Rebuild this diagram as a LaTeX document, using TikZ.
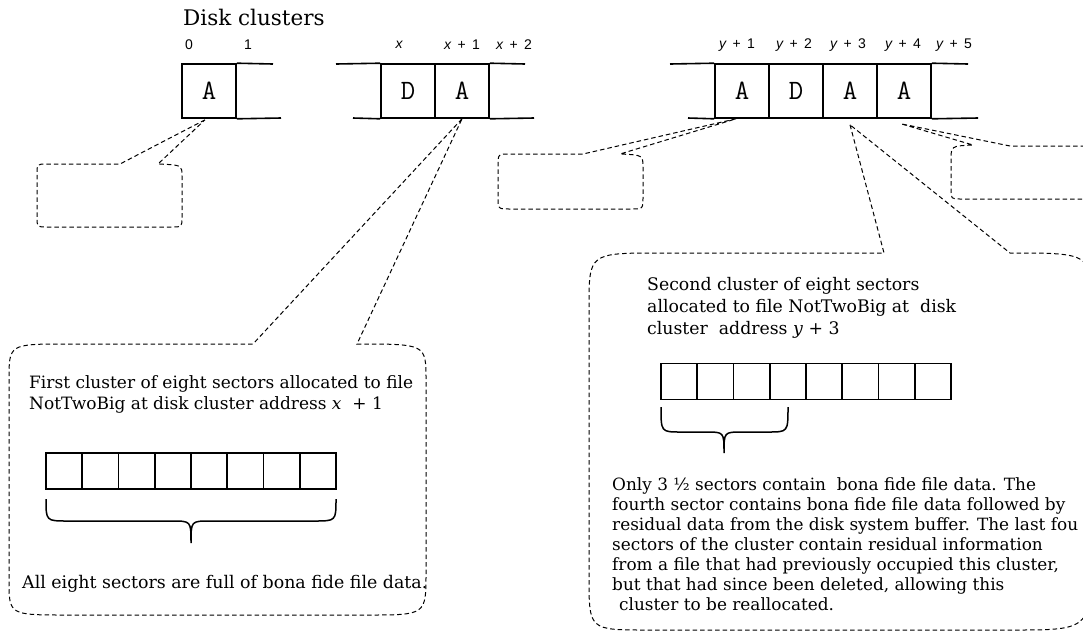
\documentclass[tikz,border=0pt]{standalone}
\usepackage{fontspec}
\setmainfont{DejaVu Serif}
\newfontfamily\lblfont{Liberation Sans}
\usetikzlibrary{calc}
\tikzset{
  cellbox/.style={draw, line width=1.6pt, minimum width=54pt, minimum height=54pt, inner sep=0pt,
    font=\ttfamily\fontsize{28}{28}\selectfont\addfontfeatures{FakeBold=2.2,FakeStretch=1.12}},
  rowline/.style={line width=1.6pt},
  sector/.style={draw, line width=1.6pt, minimum width=36.25pt, minimum height=36pt, inner sep=0pt},
  bracestyle/.style={line width=1.5pt},
  callout/.style={draw=black, line width=1pt, dash pattern=on 4.5pt off 3pt},
  lbl/.style={font=\lblfont\fontsize{14}{14}\selectfont, inner sep=0pt},
  txt/.style={inner sep=0pt, align=left, anchor=north west},
}
\newcommand{\lsp}{\hspace{0.45em}}
\begin{document}
\begin{tikzpicture}[x=1pt,y=-1pt]
\useasboundingbox (0,0) rectangle (1083,633);
\clip (0,0) rectangle (1083,633);

% title
\node[anchor=base west, inner sep=0pt, font=\fontsize{21.5}{21.5}\selectfont] (title) at (183,25) {Disk clusters};

% disk cluster cells
\node[cellbox] (a0) at (209,91) {A};
\node[cellbox] (d1) at (408,91) {D};
\node[cellbox] (a1) at (462,91) {A};
\node[cellbox] (c1) at (742,91) {A};
\node[cellbox] (c2) at (796,91) {D};
\node[cellbox] (c3) at (850,91) {A};
\node[cellbox] (c4) at (904,91) {A};

\coordinate (r1t) at (273,64);
\coordinate (r1b) at (281,118);
\coordinate (r2tl) at (336,64);
\coordinate (r2bl) at (353,118);
\coordinate (r2tr) at (525,64);
\coordinate (r2br) at (534,118);
\coordinate (r3tl) at (670,64);
\coordinate (r3bl) at (688,118);
\coordinate (r3tr) at (968,64);
\coordinate (r3br) at (978,118);

\draw[rowline] (a0.north east) -- (r1t);
\draw[rowline] (a0.south east) -- (r1b);
\draw[rowline] (r2tl) -- (d1.north west);
\draw[rowline] (r2bl) -- (d1.south west);
\draw[rowline] (a1.north east) -- (r2tr);
\draw[rowline] (a1.south east) -- (r2br);
\draw[rowline] (r3tl) -- (c1.north west);
\draw[rowline] (r3bl) -- (c1.south west);
\draw[rowline] (c4.north east) -- (r3tr);
\draw[rowline] (c4.south east) -- (r3br);

% address labels
\node[lbl] (l0) at (189,45) {0};
\node[lbl] (l1) at (248,45) {1};
\node[lbl] (lx) at (399,45) {\itshape x};
\node[lbl] (lx1) at (462,45) {{\itshape x}\lsp+\lsp1};
\node[lbl] (lx2) at (514,45) {{\itshape x}\lsp+\lsp2};
\node[lbl] (ly1) at (737,45) {{\itshape y}\lsp+\lsp1};
\node[lbl] (ly2) at (794,45) {{\itshape y}\lsp+\lsp2};
\node[lbl] (ly3) at (848,45) {{\itshape y}\lsp+\lsp3};
\node[lbl] (ly4) at (903,45) {{\itshape y}\lsp+\lsp4};
\node[lbl] (ly5) at (954,45) {{\itshape y}\lsp+\lsp5};

% callouts
\draw[callout] ($(a0.south)+(-4,1)$) -- (120,164) -- (47,164) .. controls (37,164) .. (37,174)
  -- (37,217) .. controls (37,227) .. (47,227) -- (172,227) .. controls (182,227) .. (182,217)
  -- (182,176) .. controls (182,165) .. (158,164) -- cycle;
\draw[callout] ($(c1.south)+(-6,0)$) -- (583,154) -- (510,154) .. controls (498,154) .. (498,166)
  -- (498,197) .. controls (498,209) .. (510,209) -- (631,209) .. controls (643,209) .. (643,197)
  -- (643,168) .. controls (643,155) .. (620,154) -- cycle;
\draw[callout] (1100,146) -- (1010,146) -- ($(c4.south)+(-3,5)$) -- (973,145)
  .. controls (951,146) .. (951,160) -- (951,189) .. controls (951,199) .. (961,199) -- (1100,199);
\draw[callout] (a1.south) -- (253,344) -- (67,344) .. controls (9,344) .. (9,380)
  -- (9,580) .. controls (9,615) .. (67,615) -- (367,615) .. controls (426,615) .. (426,573)
  -- (426,380) .. controls (426,344) .. (357,344) -- cycle;
\draw[callout] ($(c3.south)+(0,6)$) -- (884,253) -- (660,253) .. controls (589,253) .. (589,307)
  -- (589,577) .. controls (589,630) .. (647,630) -- (1013,630) .. controls (1092,630) .. (1092,545)
  -- (1092,310) .. controls (1092,253) .. (1010,253) -- cycle;

% left detail
\node[txt, font=\fontsize{17}{21}\selectfont] (t1) at (29,375)
  {First cluster of eight sectors allocated to file\\NotTwoBig at disk cluster address \textit{x}~~+ 1};
\foreach \i in {0,...,7} \node[sector] (ls\i) at ({46+36.25*(\i+0.5)},471) {};
\draw[bracestyle] (46,499) .. controls (46,521) .. (68,521) -- (172,521) .. controls (191,521) .. (191,543)
  .. controls (191,521) .. (210,521) -- (314,521) .. controls (336,521) .. (336,499);
\node[txt, font=\fontsize{17.4}{21}\selectfont] (t2) at (22,575)
  {All eight sectors are full of bona fide file data.};

% right detail
\node[txt, font=\fontsize{17.3}{22}\selectfont] (t3) at (647,277)
  {Second cluster of eight sectors\\allocated to file~NotTwoBig at~~disk\\cluster~~address \textit{y} + 3};
\foreach \i in {0,...,7} \node[sector] (rs\i) at ({661+36.25*(\i+0.5)},381.5) {};
\draw[bracestyle] (661,407) .. controls (661,432) .. (681,432) -- (706,432) .. controls (724,432) .. (724,453)
  .. controls (724,432) .. (742,432) -- (768,432) .. controls (788,432) .. (788,407);
\node[txt, font=\fontsize{16.9}{20}\selectfont] (t4) at (612,477)
  {Only 3 ½ sectors contain~~bona fide file data. The\\
   fourth sector contains bona fide file data followed by\\
   residual data from the disk system buffer. The last fou\\
   sectors of the cluster contain residual information\\
   from a file that had previously occupied this cluster,\\
   but that had since been deleted, allowing this\\
   \hspace{7pt}cluster to be reallocated.};
\end{tikzpicture}
\end{document}
